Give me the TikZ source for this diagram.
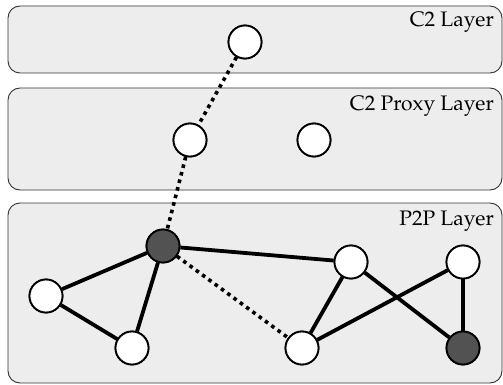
\documentclass[tikz,border=0pt]{standalone}
\usepackage[T1]{fontenc}
\usepackage{mathpazo}
\begin{document}
\begin{tikzpicture}[x=1pt,y=-1pt,
  layer/.style={draw=black!80,line width=0.9pt,fill=black!7,rounded corners=12pt},
  layerlabel/.style={anchor=base east,inner sep=0pt,font=\fontfamily{ppl}\fontsize{21}{25}\selectfont},
  peer/.style={circle,draw=black,line width=1.8pt,fill=white,minimum size=33pt,inner sep=0pt},
  bot/.style={peer,fill=black!68},
  link/.style={line width=3.8pt},
  hidden/.style={line width=3.6pt,dash pattern=on 3.6pt off 4.2pt}]
\useasboundingbox (0,0) rectangle (503,385);
% the three layers
\draw[layer] (8,6) rectangle (502,73);
\draw[layer] (8,88) rectangle (502,190);
\draw[layer] (8,203) rectangle (502,383);
\node[layerlabel] (l1) at (494,27) {C2 Layer};
\node[layerlabel] (l2) at (494,111) {C2 Proxy Layer};
\node[layerlabel] (l3) at (494,225) {P2P Layer};
% peers
\node[peer] (c2) at (245,42) {};
\node[peer] (px1) at (190,140) {};
\node[peer] (px2) at (314,140) {};
\node[bot] (b1) at (163,246) {};
\node[peer] (a) at (46,296) {};
\node[peer] (b) at (132,348) {};
\node[peer] (m) at (351,262) {};
\node[peer] (n) at (302,348) {};
\node[peer] (r) at (463,262) {};
\node[bot] (b2) at (463,348) {};
% links
\draw[hidden] (c2) -- (px1);
\draw[hidden] (px1) -- (b1);
\draw[hidden] (b1) -- (n);
\draw[link] (b1) -- (a);
\draw[link] (b1) -- (b);
\draw[link] (a) -- (b);
\draw[link] (b1) -- (m);
\draw[link] (m) -- (n);
\draw[link] (m) -- (b2);
\draw[link] (n) -- (r);
\draw[link] (r) -- (b2);
% redraw peers on top of the links
\foreach \p/\s in {c2/peer,px1/peer,px2/peer,b1/bot,a/peer,b/peer,m/peer,n/peer,r/peer,b2/bot}
  \node[\s] at (\p) {};
\end{tikzpicture}
\end{document}
